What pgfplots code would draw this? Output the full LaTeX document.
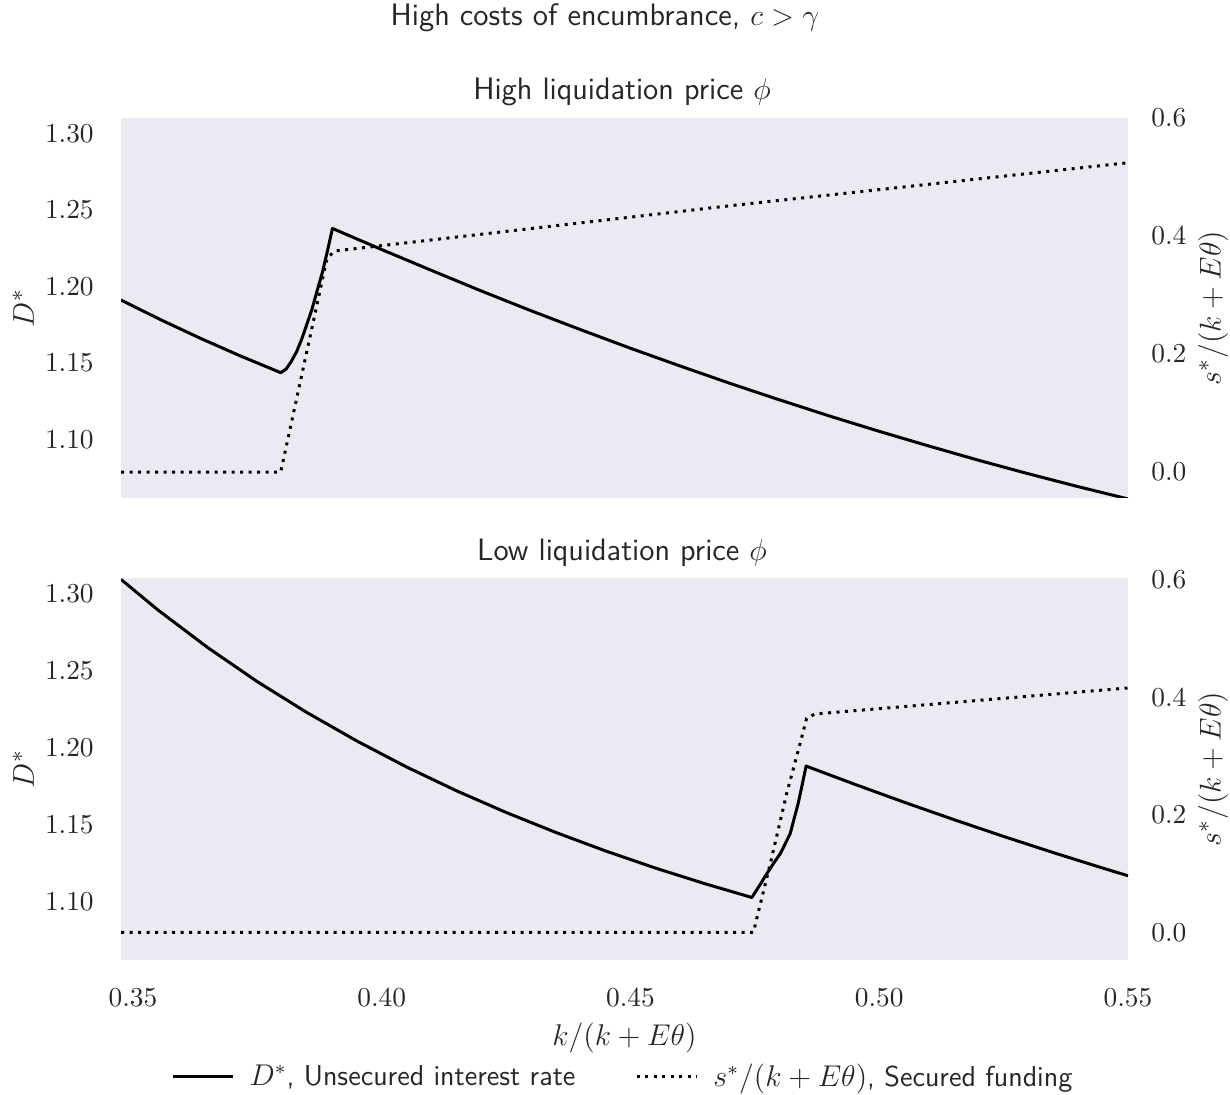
\documentclass[border=0pt]{standalone}
\usepackage{pgfplots}
\pgfplotsset{compat=1.18}
\definecolor{bgcol}{HTML}{EAEAF2}
\definecolor{txt}{HTML}{262626}

% high liquidation price
\pgfplotstableread{
x D
0.3476 1.1912
0.3556 1.1783
0.3635 1.1663
0.3716 1.1547
0.3797 1.1438
0.3808 1.1462
0.3818 1.1510
0.3829 1.1575
0.3839 1.1655
0.3849 1.1748
0.3860 1.1854
0.3870 1.1970
0.3881 1.2096
0.3891 1.2233
0.3901 1.2379
0.4001 1.2240
0.4101 1.2104
0.4201 1.1970
0.4301 1.1841
0.4401 1.1717
0.4501 1.1596
0.4601 1.1480
0.4701 1.1367
0.4801 1.1259
0.4901 1.1154
0.5001 1.1054
0.5101 1.0958
0.5201 1.0865
0.5301 1.0777
0.5401 1.0693
0.5500 1.0614
}\hiD
\pgfplotstableread{
x s
0.3476 0.0
0.3797 0.0
0.3890 0.3620
0.3905 0.3745
0.4697 0.4510
0.5500 0.5242
}\hiS
% low liquidation price
\pgfplotstableread{
x D
0.3476 1.3091
0.3550 1.2893
0.3650 1.2649
0.3750 1.2427
0.3850 1.2226
0.3950 1.2042
0.4050 1.1873
0.4150 1.1719
0.4250 1.1578
0.4350 1.1448
0.4450 1.1328
0.4550 1.1217
0.4650 1.1115
0.4744 1.1026
0.4759 1.1102
0.4774 1.1180
0.4787 1.1245
0.4801 1.1310
0.4811 1.1375
0.4821 1.1440
0.4829 1.1539
0.4837 1.1636
0.4845 1.1756
0.4853 1.1879
0.4953 1.1758
0.5053 1.1641
0.5153 1.1528
0.5253 1.1419
0.5353 1.1314
0.5453 1.1213
0.5500 1.1167
}\loD
\pgfplotstableread{
x s
0.3476 0.0
0.4747 0.0
0.4781 0.1170
0.4814 0.2364
0.4841 0.3216
0.4854 0.3643
0.4871 0.3716
0.5500 0.4159
}\loS

\begin{document}
\begin{tikzpicture}
\useasboundingbox (0pt,0pt) rectangle (492pt,-438pt);
\pgfplotsset{
  base/.style={scale only axis, width=402.8pt, xmin=0.3476, xmax=0.55,
    anchor=south west, axis line style={draw=none}, major tick length=0pt,
    scaled ticks=false,
    tick label style={font=\fontsize{11}{13}\selectfont, text=txt},
    label style={font=\fontsize{12.3}{15}\selectfont, text=txt},
    xtick={0.35,0.40,0.45,0.50,0.55},
    xticklabel style={/pgf/number format/.cd, fixed, fixed zerofill, precision=2, /tikz/.cd},
    clip=true},
  left/.style={base, axis background/.style={fill=bgcol},
    ymin=1.062, ymax=1.310, ytick={1.10,1.15,1.20,1.25,1.30},
    yticklabel style={/pgf/number format/.cd, fixed, fixed zerofill, precision=2, /tikz/.cd, xshift=-7.4pt},
    ylabel={$D^*$}, ylabel style={at={(rel axis cs:-0.097,0.5)}, anchor=center}},
  right/.style={base, axis y line*=right, axis x line=none,
    ytick={0,0.2,0.4,0.6},
    yticklabel style={/pgf/number format/.cd, fixed, fixed zerofill, precision=1, /tikz/.cd, xshift=5.8pt},
    ylabel={$s^*/(k+E\theta)$}, ylabel style={at={(rel axis cs:1.0844,0.5)}, anchor=center}},
  dline/.style={black, line width=1.2pt, line join=round},
  sline/.style={black, line width=1.2pt, dash pattern=on 1.2pt off 2.2pt},
}

% top panel
\begin{axis}[left, at={(48.4pt,-199.2pt)}, height=152pt, xticklabels={}]
\addplot[dline] table[x=x, y=D] {\hiD};
\end{axis}
\begin{axis}[right, at={(48.4pt,-199.2pt)}, height=152pt, ymin=-0.044, ymax=0.6]
\addplot[sline] table[x=x, y=s] {\hiS};
\end{axis}

% bottom panel
\begin{axis}[left, at={(48.4pt,-384pt)}, height=152.8pt,
  xticklabel style={yshift=-8pt},
  xlabel={$k/(k+E\theta)$}, xlabel style={at={(rel axis cs:0.5,-0.205)}, anchor=center},
  legend style={at={(0.5,-0.306)}, anchor=center, draw=none, fill=none,
    legend columns=2, font=\sffamily\fontsize{11.5}{13}\selectfont, text=txt,
    /tikz/every even column/.append style={column sep=22pt}},
  legend image code/.code={\draw[#1] (0pt,0pt) -- (24pt,0pt); \path (28pt,0pt);}]
\addplot[dline] table[x=x, y=D] {\loD};
\addlegendentry{$D^*$, Unsecured interest rate}
\addlegendimage{sline}
\addlegendentry{$s^*/(k+E\theta)$, Secured funding}
\end{axis}
\begin{axis}[right, at={(48.4pt,-384pt)}, height=152.8pt, ymin=-0.047, ymax=0.603]
\addplot[sline] table[x=x, y=s] {\loS};
\end{axis}

\node[font=\sffamily\fontsize{12.4}{15}\selectfont, text=txt] at (242pt,-7.2pt) {High costs of encumbrance, $c>\gamma$};
\node[font=\sffamily\fontsize{12.4}{15}\selectfont, text=txt] at (248.8pt,-36.8pt) {High liquidation price $\phi$};
\node[font=\sffamily\fontsize{12.4}{15}\selectfont, text=txt] at (248.8pt,-221.2pt) {Low liquidation price $\phi$};
\end{tikzpicture}
\end{document}
